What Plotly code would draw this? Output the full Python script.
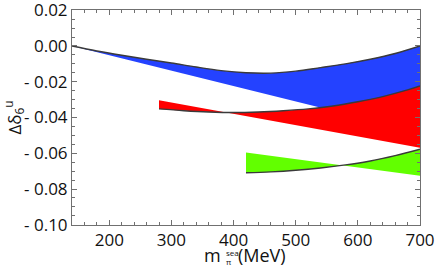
import plotly.graph_objects as go

# blue band: upper curve (black line) and lower straight edge
blue_x = [140, 180, 220, 260, 300, 340, 380, 420, 460, 500, 540, 580, 620, 660, 700]
blue_curve = [0.0, -0.0028, -0.0052, -0.0074, -0.0095, -0.0118, -0.0138, -0.0150,
              -0.0152, -0.0141, -0.0121, -0.0100, -0.0074, -0.0042, 0.0000]
blue_line_x = [140, 700]
blue_line = [0.0, -0.0482]

# red band
red_x = [280, 320, 360, 400, 440, 480, 520, 560, 600, 640, 680, 700]
red_curve = [-0.0352, -0.0362, -0.0369, -0.0372, -0.0369, -0.0362, -0.0352,
             -0.0336, -0.0312, -0.0283, -0.0246, -0.0224]
red_line_x = [280, 700]
red_line = [-0.0303, -0.0569]

# green band
green_x = [420, 460, 500, 540, 580, 620, 660, 700]
green_curve = [-0.0709, -0.0704, -0.0695, -0.0682, -0.0665, -0.0643, -0.0613, -0.0577]
green_line_x = [420, 700]
green_line = [-0.0595, -0.0726]

y_ticks = [0.02, 0.0, -0.02, -0.04, -0.06, -0.08, -0.10]
y_tick_text = ["0.02", "0.00", "- 0.02", "- 0.04", "- 0.06", "- 0.08", "- 0.10"]
x_ticks = [200, 300, 400, 500, 600, 700]

fig = go.Figure()

def band(xc, yc, xl, yl, color):
    fig.add_trace(go.Scatter(
        x=list(xc) + list(xl)[::-1], y=list(yc) + list(yl)[::-1],
        fill="toself", fillcolor=color, mode="none", hoverinfo="skip",
        showlegend=False))

def curve(xc, yc):
    fig.add_trace(go.Scatter(x=xc, y=yc, mode="lines",
                             line=dict(color="#3a3a3a", width=1.4, shape="spline"),
                             showlegend=False, hoverinfo="skip"))

band(blue_x, blue_curve, blue_line_x, blue_line, "#2442ff")
band(red_x, red_curve, red_line_x, red_line, "#ff0000")
band(green_x, green_curve, green_line_x, green_line, "#62ff00")
curve(blue_x, blue_curve)
curve(red_x, red_curve)
curve(green_x, green_curve)

fam = "Open Sans, DejaVu Sans, sans-serif"
font = dict(family=fam, size=17, color="#111111")
axcol = "#707070"

fig.update_layout(
    width=436, height=267,
    margin=dict(l=72, r=16, t=10, b=42, autoexpand=False),
    paper_bgcolor="white", plot_bgcolor="white",
    font=font,
    xaxis=dict(range=[140, 700], tickvals=x_ticks, ticks="inside", ticklen=5, tickcolor=axcol,
               minor=dict(dtick=20, tick0=0, ticks="inside", ticklen=3, tickcolor=axcol),
               showgrid=False, zeroline=False, showline=True, linecolor=axcol, linewidth=1,
               mirror="allticks", ticklabeloverflow="allow", automargin=False),
    yaxis=dict(range=[-0.1001, 0.0201], tickvals=y_ticks, ticktext=y_tick_text, ticks="inside",
               ticklen=5, tickcolor=axcol,
               minor=dict(dtick=0.005, tick0=0, ticks="inside", ticklen=3, tickcolor=axcol),
               showgrid=False, zeroline=False, showline=True, linecolor=axcol, linewidth=1,
               mirror="allticks", ticklabeloverflow="allow", automargin=False),
)

# x-axis title: m with stacked sub (pi) and sup (sea), then (MeV)
ty = -(255 - 225) / 215.0
fig.add_annotation(text="m", xref="paper", yref="paper", x=0.5, y=ty, xshift=-23,
                   xanchor="right", yanchor="middle", showarrow=False, font=dict(family=fam, size=18))
fig.add_annotation(text="sea", xref="paper", yref="paper", x=0.5, y=ty, xshift=-22, yshift=3,
                   xanchor="left", yanchor="middle", showarrow=False, font=dict(family=fam, size=8))
fig.add_annotation(text="π", xref="paper", yref="paper", x=0.5, y=ty, xshift=-22, yshift=-6,
                   xanchor="left", yanchor="middle", showarrow=False, font=dict(family=fam, size=8))
fig.add_annotation(text="(MeV)", xref="paper", yref="paper", x=0.5, y=ty, xshift=-10,
                   xanchor="left", yanchor="middle", showarrow=False, font=dict(family=fam, size=18))

# y-axis title
fig.add_annotation(text="Δδ<sub>6</sub><sup>u</sup>", xref="paper", yref="paper",
                   x=-(72 - 14) / 348.0, y=0.5, xanchor="center", yanchor="middle",
                   textangle=-90, showarrow=False, font=dict(family=fam, size=17))

fig.write_html("out.html", config={"displayModeBar": False},
               post_script="document.documentElement.style.margin='0';"
                           "document.body.style.margin='0';"
                           "document.body.style.padding='0';"
                           "document.body.style.overflow='hidden';")
